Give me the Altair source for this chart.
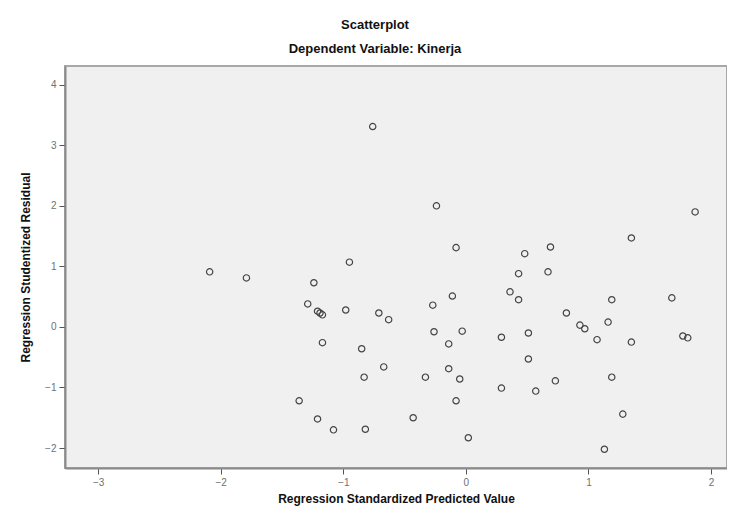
import altair as alt
import pandas as pd

# Regression Standardized Predicted Value
predicted = [
    -2.09, -1.79, -1.24, -0.95, -1.29, -1.21, -1.19, -1.17, -0.98, -1.17,
    -1.36, -1.21, -1.08, -0.76, -0.24, -0.08, 0.48, 0.69, 0.43, 0.67,
    0.36, 0.43, -0.11, -0.27, -0.71, -0.63, -0.26, -0.03, -0.14, 0.29,
    0.51, -0.85, 0.51, -0.67, -0.83, -0.33, -0.14, -0.05, -0.08, 0.29,
    0.57, -0.43, -0.82, 0.02, 1.87, 1.35, 1.19, 1.68, 0.82, 0.93,
    0.97, 1.16, 1.07, 1.35, 1.77, 1.81, 0.73, 1.19, 1.28, 1.13,
]
# Regression Studentized Residual
residual = [
    0.91, 0.81, 0.73, 1.07, 0.38, 0.26, 0.23, 0.20, 0.28, -0.26,
    -1.22, -1.52, -1.70, 3.31, 2.00, 1.31, 1.21, 1.32, 0.88, 0.91,
    0.58, 0.45, 0.51, 0.36, 0.23, 0.12, -0.08, -0.07, -0.28, -0.17,
    -0.10, -0.36, -0.53, -0.66, -0.83, -0.83, -0.69, -0.86, -1.22, -1.01,
    -1.06, -1.50, -1.69, -1.83, 1.90, 1.47, 0.45, 0.48, 0.23, 0.03,
    -0.03, 0.08, -0.21, -0.25, -0.15, -0.18, -0.89, -0.83, -1.44, -2.02,
]
x_ticks = [-3, -2, -1, 0, 1, 2]
y_ticks = [-2, -1, 0, 1, 2, 3, 4]

df = pd.DataFrame({"pred": predicted, "resid": residual})

FONT = "Liberation Sans"

chart = (
    alt.Chart(df)
    .mark_point(shape="circle", filled=False, size=40, color="#444444",
                strokeWidth=1.2, opacity=1)
    .encode(
        x=alt.X("pred:Q",
                scale=alt.Scale(domain=[-3.27, 2.13], nice=False, zero=False),
                axis=alt.Axis(values=x_ticks, title="Regression Standardized Predicted Value",
                              grid=False, tickSize=6, labelPadding=3, titlePadding=6,
                              labelColor="#707070", labelFontSize=10, labelFont=FONT,
                              titleFont=FONT, titleFontSize=12, titleFontWeight="bold",
                              titleColor="#111111", tickColor="#555555",
                              domainColor="#8a8a8a", domainWidth=2)),
        y=alt.Y("resid:Q",
                scale=alt.Scale(domain=[-2.33, 4.31], nice=False, zero=False),
                axis=alt.Axis(values=y_ticks, title="Regression Studentized Residual",
                              grid=False, tickSize=6, labelPadding=3, titlePadding=12,
                              labelColor="#707070", labelFontSize=10, labelFont=FONT,
                              titleFont=FONT, titleFontSize=12, titleFontWeight="bold",
                              titleColor="#111111", tickColor="#555555",
                              domainColor="#8a8a8a", domainWidth=2)),
    )
    .properties(
        width=662,
        height=402,
        background="white",
        title=alt.TitleParams(
            text="Scatterplot",
            subtitle="Dependent Variable: Kinerja",
            anchor="middle",
            frame="group",
            dx=-21,
            offset=10,
            font=FONT,
            fontSize=13,
            fontWeight="bold",
            color="#111111",
            subtitleFont=FONT,
            subtitleFontSize=13,
            subtitleFontWeight="bold",
            subtitleColor="#111111",
            subtitlePadding=11,
        ),
        autosize=alt.AutoSizeParams(type="none"),
        padding={"left": 57, "top": 58, "right": 0, "bottom": 43},
    )
    .configure_view(fill="#f0f0f0", stroke="#a8a8a8", strokeWidth=2)
)

chart.save("out.html", embed_options={"renderer": "svg", "actions": False})
